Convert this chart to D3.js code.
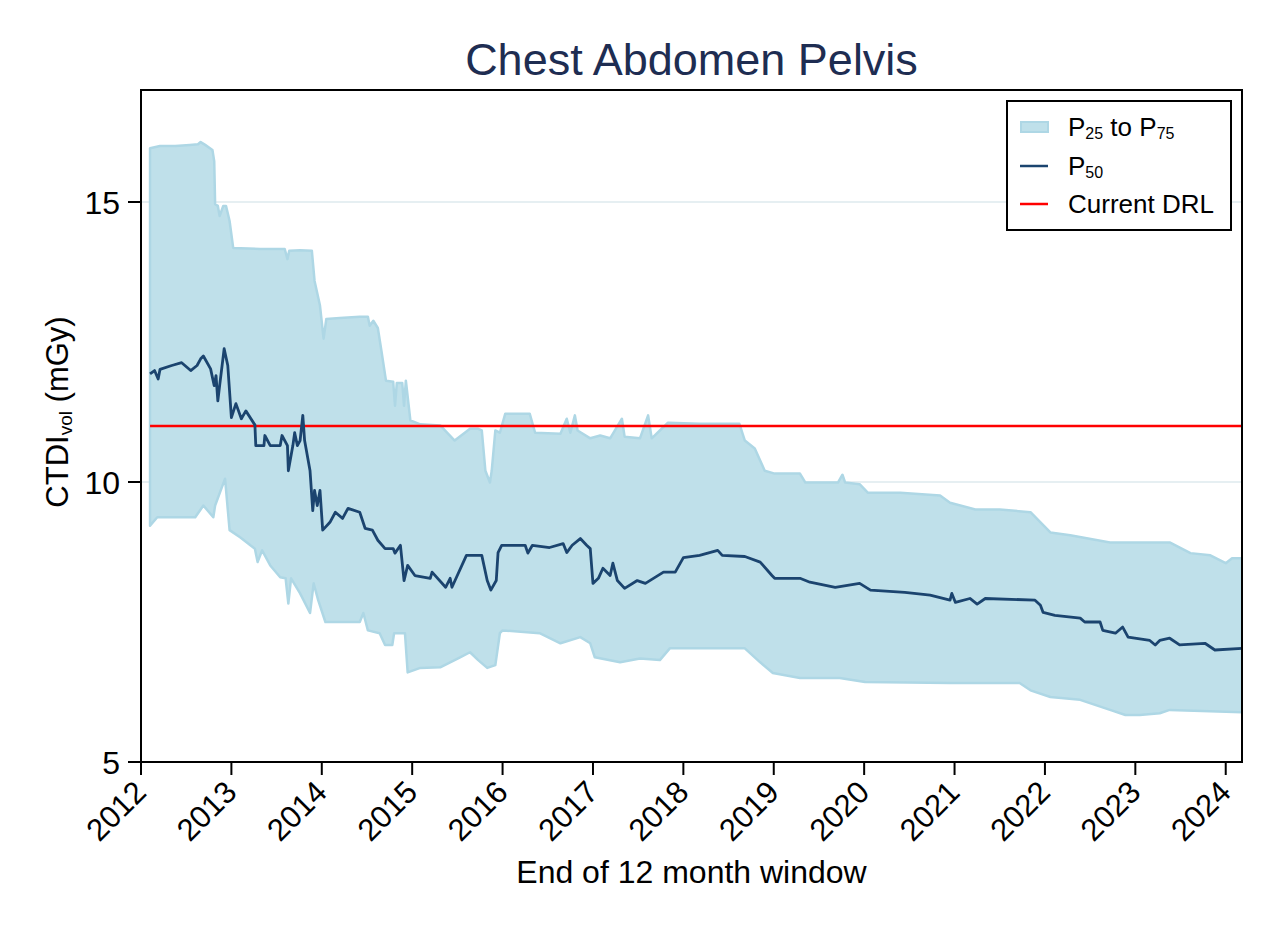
<!DOCTYPE html>
<html>
<head>
<meta charset="utf-8">
<script src="https://cdn.jsdelivr.net/npm/d3@7"></script>
<style>
  html, body { margin: 0; padding: 0; background: #ffffff; }
  svg { display: block; font-family: "Liberation Sans", Arial, sans-serif; }
</style>
</head>
<body>
<svg id="chart" width="1276" height="928"></svg>
<script>
// ---- Data (decimal year of window end, CTDIvol in mGy) ----
const title = "Chest Abdomen Pelvis";
const xLabel = "End of 12 month window";
const yTicks = [5, 10, 15];
const xTicks = [2012, 2013, 2014, 2015, 2016, 2017, 2018, 2019, 2020, 2021, 2022, 2023, 2024];
const drlValue = 11.0;

const p75 = [
  [2012.10,15.96],[2012.21,16.00],[2012.38,16.00],[2012.54,16.02],[2012.63,16.03],[2012.66,16.07],
  [2012.71,16.02],[2012.79,15.93],[2012.81,15.73],[2012.82,14.96],[2012.85,14.93],[2012.87,14.75],
  [2012.91,14.93],[2012.94,14.93],[2012.96,14.80],[2012.98,14.66],[2013.02,14.18],[2013.32,14.16],
  [2013.59,14.16],[2013.62,13.98],[2013.64,14.13],[2013.76,14.14],[2013.89,14.13],[2013.92,13.59],
  [2013.98,13.15],[2014.02,12.56],[2014.05,12.91],[2014.20,12.93],[2014.42,12.95],[2014.51,12.95],
  [2014.53,12.79],[2014.57,12.88],[2014.62,12.75],[2014.66,12.34],[2014.71,11.81],[2014.79,11.79],
  [2014.81,11.36],[2014.83,11.77],[2014.89,11.77],[2014.91,11.36],[2014.93,11.81],[2014.98,11.10],
  [2015.09,11.03],[2015.31,11.01],[2015.47,10.74],[2015.64,10.95],[2015.73,10.95],[2015.77,10.92],
  [2015.81,10.20],[2015.86,9.99],[2015.88,10.20],[2015.92,10.92],[2015.97,10.88],[2016.03,11.22],
  [2016.30,11.22],[2016.36,10.88],[2016.64,10.86],[2016.71,11.13],[2016.75,10.88],[2016.80,11.19],
  [2016.83,10.92],[2016.97,10.78],[2017.08,10.83],[2017.19,10.78],[2017.32,11.13],[2017.35,10.81],
  [2017.52,10.78],[2017.61,11.19],[2017.65,10.78],[2017.74,10.92],[2017.83,11.06],[2018.18,11.04],
  [2018.62,11.04],[2018.68,10.74],[2018.79,10.60],[2018.90,10.20],[2019.01,10.15],[2019.29,10.15],
  [2019.35,9.99],[2019.71,9.99],[2019.76,10.13],[2019.79,9.99],[2019.95,9.96],[2020.04,9.81],
  [2020.40,9.81],[2020.84,9.76],[2020.95,9.63],[2021.23,9.51],[2021.50,9.51],[2021.84,9.46],
  [2022.06,9.10],[2022.28,9.05],[2022.72,8.92],[2023.38,8.92],[2023.61,8.73],[2023.83,8.69],
  [2024.00,8.55],[2024.07,8.64],[2024.18,8.64]
];

const p25 = [
  [2012.10,9.22],[2012.18,9.37],[2012.60,9.37],[2012.69,9.58],[2012.80,9.37],[2012.82,9.58],
  [2012.93,10.06],[2012.98,9.14],[2013.10,9.01],[2013.21,8.87],[2013.26,8.81],[2013.29,8.57],
  [2013.34,8.78],[2013.43,8.51],[2013.54,8.30],[2013.60,8.28],[2013.63,7.83],[2013.66,8.28],
  [2013.76,8.01],[2013.87,7.66],[2013.91,8.19],[2013.96,7.89],[2014.04,7.50],[2014.42,7.50],
  [2014.46,7.66],[2014.51,7.35],[2014.64,7.30],[2014.70,7.09],[2014.78,7.09],[2014.80,7.30],
  [2014.92,7.30],[2014.95,6.60],[2015.09,6.68],[2015.31,6.69],[2015.53,6.87],[2015.64,6.96],
  [2015.73,6.82],[2015.83,6.68],[2015.92,6.73],[2015.97,7.30],[2016.00,7.35],[2016.41,7.30],
  [2016.64,7.12],[2016.86,7.23],[2016.97,7.12],[2017.02,6.87],[2017.30,6.78],[2017.52,6.85],
  [2017.74,6.82],[2017.85,7.03],[2018.68,7.03],[2018.85,6.78],[2018.99,6.59],[2019.29,6.50],
  [2019.73,6.50],[2020.01,6.43],[2020.95,6.41],[2021.72,6.41],[2021.84,6.28],[2022.06,6.16],
  [2022.39,6.11],[2022.72,5.93],[2022.89,5.84],[2023.05,5.84],[2023.27,5.87],[2023.38,5.93],
  [2024.18,5.89]
];

const p50 = [
  [2012.10,11.93],[2012.15,11.99],[2012.19,11.84],[2012.21,12.01],[2012.34,12.08],[2012.45,12.13],
  [2012.55,11.99],[2012.62,12.08],[2012.66,12.20],[2012.69,12.25],[2012.77,12.02],[2012.81,11.72],
  [2012.83,11.90],[2012.85,11.45],[2012.87,11.72],[2012.92,12.38],[2012.96,12.08],[2013.00,11.15],
  [2013.05,11.40],[2013.11,11.13],[2013.16,11.27],[2013.26,11.02],[2013.27,10.65],[2013.36,10.65],
  [2013.37,10.83],[2013.43,10.65],[2013.54,10.65],[2013.56,10.83],[2013.62,10.65],[2013.63,10.20],
  [2013.68,10.65],[2013.70,10.88],[2013.73,10.65],[2013.76,10.74],[2013.79,11.19],[2013.81,10.74],
  [2013.87,10.20],[2013.90,9.49],[2013.92,9.85],[2013.95,9.58],[2013.98,9.85],[2014.01,9.14],
  [2014.09,9.28],[2014.15,9.46],[2014.23,9.35],[2014.29,9.53],[2014.42,9.46],[2014.48,9.17],
  [2014.56,9.14],[2014.62,8.96],[2014.70,8.81],[2014.79,8.81],[2014.81,8.73],[2014.87,8.87],
  [2014.91,8.24],[2014.95,8.51],[2015.03,8.33],[2015.20,8.28],[2015.22,8.39],[2015.37,8.12],
  [2015.42,8.28],[2015.44,8.12],[2015.60,8.69],[2015.77,8.69],[2015.83,8.24],[2015.87,8.07],
  [2015.93,8.24],[2015.95,8.74],[2015.99,8.87],[2016.25,8.87],[2016.28,8.73],[2016.33,8.87],
  [2016.52,8.83],[2016.67,8.90],[2016.71,8.74],[2016.77,8.87],[2016.86,8.99],[2016.93,8.87],
  [2016.97,8.81],[2017.00,8.19],[2017.06,8.28],[2017.11,8.46],[2017.19,8.33],[2017.22,8.55],
  [2017.27,8.24],[2017.35,8.10],[2017.49,8.24],[2017.58,8.19],[2017.78,8.39],[2017.91,8.39],
  [2018.00,8.65],[2018.18,8.69],[2018.38,8.78],[2018.43,8.69],[2018.68,8.67],[2018.85,8.57],
  [2018.98,8.33],[2019.01,8.28],[2019.29,8.28],[2019.40,8.21],[2019.68,8.12],[2019.95,8.19],
  [2020.07,8.07],[2020.45,8.03],[2020.73,7.98],[2020.95,7.89],[2020.97,8.01],[2021.01,7.85],
  [2021.17,7.92],[2021.25,7.82],[2021.34,7.92],[2021.89,7.89],[2021.95,7.80],[2021.98,7.67],
  [2022.11,7.62],[2022.39,7.57],[2022.44,7.50],[2022.61,7.50],[2022.64,7.35],[2022.78,7.30],
  [2022.86,7.41],[2022.92,7.23],[2023.16,7.17],[2023.22,7.09],[2023.27,7.17],[2023.38,7.21],
  [2023.49,7.09],[2023.77,7.12],[2023.88,7.00],[2024.18,7.03]
];

// ---- Layout ----
const svg = d3.select("#chart");
const plot = { left: 141, right: 1242, top: 90, bottom: 762 };
const x = d3.scaleLinear().domain([2012, 2024.18]).range([plot.left, plot.right]);
const y = d3.scaleLinear().domain([5, 17]).range([plot.bottom, plot.top]);

const bandFill = "#bfe0ea", bandEdge = "#aed7e5";
const medColor = "#1b446f", drlColor = "#ff0000";

svg.append("defs").append("clipPath").attr("id", "clip")
  .append("rect").attr("x", plot.left).attr("y", plot.top)
  .attr("width", plot.right - plot.left).attr("height", plot.bottom - plot.top);

// gridlines
svg.append("g").selectAll("line").data(yTicks.filter(d => d > 5)).join("line")
  .attr("x1", plot.left).attr("x2", plot.right)
  .attr("y1", d => y(d)).attr("y2", d => y(d))
  .attr("stroke", "#e6eff2").attr("stroke-width", 2);

const g = svg.append("g").attr("clip-path", "url(#clip)");

// band polygon: upper forward, lower backward
const bandPts = p75.concat(p25.slice().reverse());
const line = d3.line().x(d => x(d[0])).y(d => y(d[1]));
g.append("path").attr("d", line(bandPts) + "Z")
  .attr("fill", bandFill).attr("stroke", bandEdge).attr("stroke-width", 2.5)
  .attr("stroke-linejoin", "round");

// DRL
g.append("line")
  .attr("x1", x(p50[0][0])).attr("x2", x(p50[p50.length - 1][0]))
  .attr("y1", y(drlValue)).attr("y2", y(drlValue))
  .attr("stroke", drlColor).attr("stroke-width", 2.5);

// median
g.append("path").attr("d", line(p50))
  .attr("fill", "none").attr("stroke", medColor).attr("stroke-width", 2.8)
  .attr("stroke-linejoin", "round");

// frame
svg.append("rect").attr("x", plot.left).attr("y", plot.top)
  .attr("width", plot.right - plot.left).attr("height", plot.bottom - plot.top)
  .attr("fill", "none").attr("stroke", "#000").attr("stroke-width", 2);

// y axis ticks + labels
const yAx = svg.append("g");
yAx.selectAll("line").data(yTicks).join("line")
  .attr("x1", plot.left - 13).attr("x2", plot.left)
  .attr("y1", d => y(d)).attr("y2", d => y(d))
  .attr("stroke", "#000").attr("stroke-width", 2);
yAx.selectAll("text").data(yTicks).join("text")
  .attr("x", plot.left - 21).attr("y", d => y(d)).attr("dy", "0.36em")
  .attr("text-anchor", "end").attr("font-size", 32).attr("fill", "#000")
  .text(d => d);

// x axis ticks + labels
const xAx = svg.append("g");
xAx.selectAll("line").data(xTicks).join("line")
  .attr("x1", d => x(d)).attr("x2", d => x(d))
  .attr("y1", plot.bottom).attr("y2", plot.bottom + 13)
  .attr("stroke", "#000").attr("stroke-width", 2);
xAx.selectAll("text").data(xTicks).join("text")
  .attr("transform", d => `translate(${x(d) + 7},${plot.bottom + 32}) rotate(-45)`)
  .attr("text-anchor", "end").attr("font-size", 31).attr("fill", "#000")
  .text(d => d);

// title
svg.append("text").attr("x", (plot.left + plot.right) / 2).attr("y", 75)
  .attr("text-anchor", "middle").attr("font-size", 45).attr("fill", "#1e2d52")
  .text(title);

// x label
svg.append("text").attr("x", (plot.left + plot.right) / 2).attr("y", 883)
  .attr("text-anchor", "middle").attr("font-size", 32).attr("fill", "#000")
  .text(xLabel);

// y label
const yl = svg.append("text").attr("transform", "translate(68,412) rotate(-90)")
  .attr("text-anchor", "middle").attr("font-size", 31).attr("fill", "#000");
yl.append("tspan").text("CTDI");
yl.append("tspan").attr("font-size", 19).attr("dy", 4).text("vol");
yl.append("tspan").attr("dy", -4).text(" (mGy)");

// legend
const lg = svg.append("g");
lg.append("rect").attr("x", 1007).attr("y", 101).attr("width", 224).attr("height", 129)
  .attr("fill", "#fff").attr("stroke", "#000").attr("stroke-width", 2);
const rows = [127, 166, 204];
lg.append("rect").attr("x", 1021).attr("y", rows[0] - 5).attr("width", 27).attr("height", 10)
  .attr("fill", bandFill).attr("stroke", bandEdge).attr("stroke-width", 2);
lg.append("line").attr("x1", 1020).attr("x2", 1048).attr("y1", rows[1]).attr("y2", rows[1])
  .attr("stroke", medColor).attr("stroke-width", 2.5);
lg.append("line").attr("x1", 1020).attr("x2", 1048).attr("y1", rows[2]).attr("y2", rows[2])
  .attr("stroke", drlColor).attr("stroke-width", 2.5);

function legendText(yc) {
  return lg.append("text").attr("x", 1068).attr("y", yc + 9).attr("font-size", 26).attr("fill", "#000");
}
const t1 = legendText(rows[0]);
t1.append("tspan").text("P");
t1.append("tspan").attr("font-size", 16).attr("dy", 3).text("25");
t1.append("tspan").attr("dy", -3).text(" to P");
t1.append("tspan").attr("font-size", 16).attr("dy", 3).text("75");
const t2 = legendText(rows[1]);
t2.append("tspan").text("P");
t2.append("tspan").attr("font-size", 16).attr("dy", 3).text("50");
legendText(rows[2]).text("Current DRL");
</script>
</body>
</html>
